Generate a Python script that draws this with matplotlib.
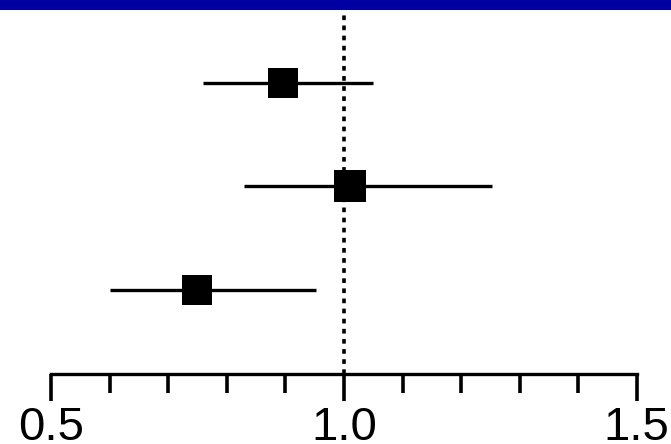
import matplotlib
matplotlib.use('Agg')
import matplotlib.pyplot as plt
from matplotlib.patches import Rectangle

# forest plot values (top to bottom)
estimates = [0.895, 1.010, 0.749]
ci_low = [0.760, 0.829, 0.600]
ci_high = [1.050, 1.252, 0.953]
box_px = [30, 32, 30]  # box side in pixels

tick_major = [0.5, 1.0, 1.5]
tick_labels = ['0.5', '1.0', '1.5']
tick_minor = [0.6, 0.7, 0.8, 0.9, 1.1, 1.2, 1.3, 1.4]

plt.rcParams['font.family'] = ['Liberation Sans', 'DejaVu Sans']

fig = plt.figure(figsize=(6.71, 4.44), dpi=100)
fig.patch.set_facecolor('white')

# blue banner at the top
fig.patches.append(Rectangle((0, 1 - 10 / 444), 1, 10 / 444, transform=fig.transFigure,
                             facecolor='#0000A0', edgecolor='none'))

ax = fig.add_axes([0, 1 - 373.5 / 444, 1, (373.5 - 10) / 444])
ax.set_xlim(0.4124, 1.5586)
ax.set_ylim(2.807, -0.705)

# null line
ax.axvline(1.0, color='black', lw=2.6, linestyle=(0, (1.3, 1.5)), zorder=1)

for i in range(len(estimates)):
    ax.hlines(i, ci_low[i], ci_high[i], color='black', lw=2.4, zorder=2)
    ax.plot(estimates[i], i, marker='s', color='black', markeredgewidth=0,
            markersize=box_px[i] * 0.72, zorder=3)

for side in ['top', 'left', 'right']:
    ax.spines[side].set_visible(False)
ax.spines['bottom'].set_linewidth(2.4)
ax.spines['bottom'].set_bounds(0.5, 1.5)
ax.spines['bottom'].set_capstyle('projecting')
ax.set_yticks([])
ax.set_xticks(tick_major)
ax.set_xticklabels(tick_labels)
ax.set_xticks(tick_minor, minor=True)
ax.tick_params(axis='x', which='major', direction='out', length=19.5, width=2.6,
               labelsize=34, pad=4)
ax.tick_params(axis='x', which='minor', direction='out', length=14, width=2.6)
ax.patch.set_visible(False)

fig.savefig('out.png', dpi=100)
